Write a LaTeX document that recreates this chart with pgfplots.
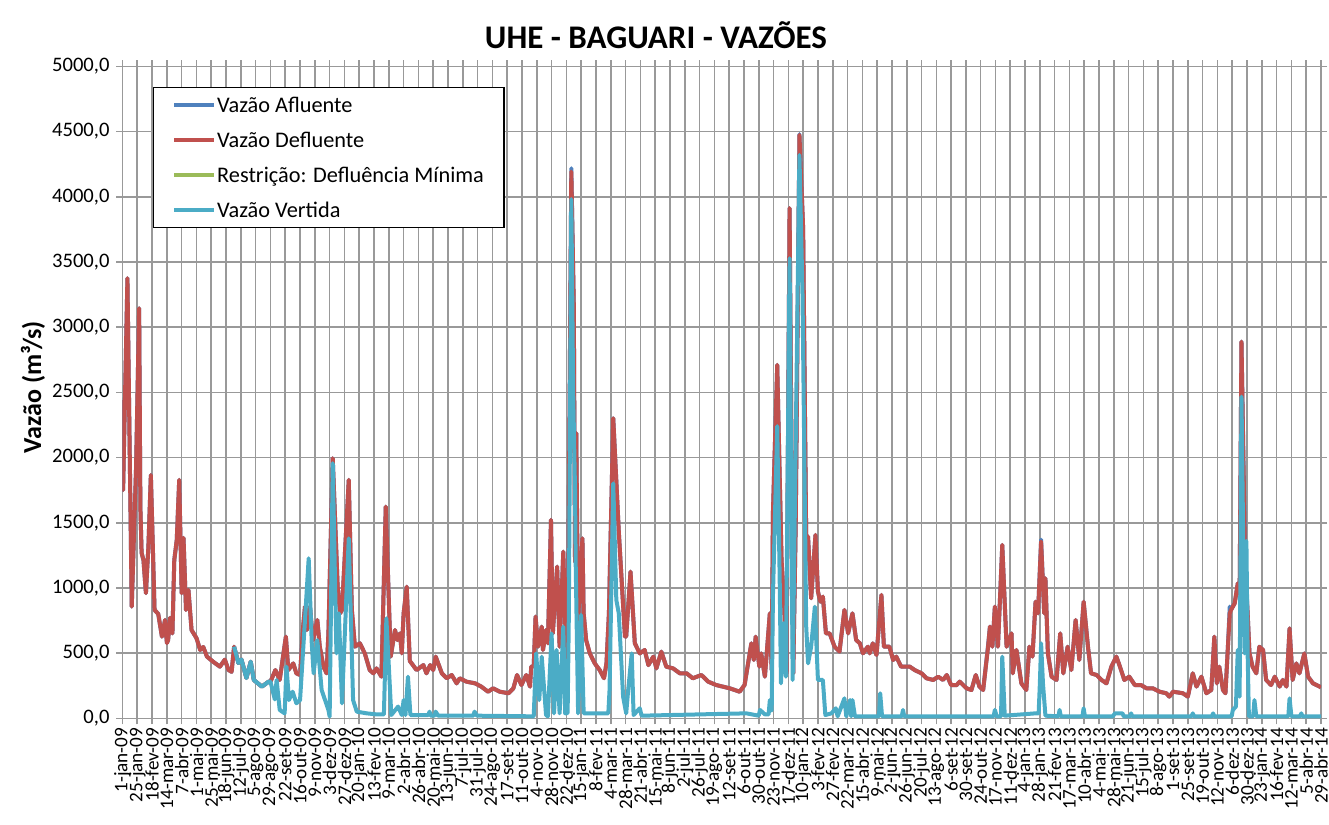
\documentclass[border=0pt]{standalone}
\usepackage{pgfplots}
\pgfplotsset{compat=1.18}
\usepackage{pgfplotstable}
\usepackage{fontspec}
\setmainfont{Carlito}

\definecolor{afl}{HTML}{4F81BD}
\definecolor{defl}{HTML}{C0504D}
\definecolor{restr}{HTML}{9BBB59}
\definecolor{vert}{HTML}{4BACC6}

% day 0 = 1-jan-09
\pgfplotstableread{
d defl afl
0 2440 2440
1 1750 1750
8 3375 3375
15 856 856
22 1920 1920
27 3145 3145
29 1620 1620
31 1268 1268
34 1214 1214
38 960 960
42 1316 1316
46 1866 1866
52 831 831
58 800 800
64 626 626
69 754 754
72 577 577
74 600 600
77 770 770
81 651 651
84 1214 1214
88 1367 1367
92 1828 1828
96 959 959
99 1383 1383
103 831 831
107 984 984
112 677 677
120 615 615
126 524 524
131 547 547
137 473 473
147 434 434
158 396 396
166 450 450
172 370 370
177 357 357
181 549 549
188 424 424
193 450 450
201 309 309
208 434 434
213 294 294
226 243 243
237 281 281
240 281 281
248 370 370
255 294 294
265 626 626
269 370 370
277 421 421
282 345 345
288 332 332
293 703 703
296 856 856
299 677 677
304 856 856
309 600 600
316 754 754
320 549 549
326 396 396
331 345 345
334 651 651
341 1994 1994
349 1009 1009
353 805 805
356 831 831
367 1828 1828
372 831 831
377 549 549
385 575 575
393 498 498
401 370 370
407 345 345
412 383 383
420 319 319
427 1623 1623
435 473 473
442 677 677
446 600 600
450 651 651
453 498 498
456 805 805
461 1009 1009
466 440 440
477 370 370
488 408 408
493 345 345
499 408 408
504 370 370
508 473 473
518 345 345
526 307 307
534 332 332
542 268 268
547 307 307
558 281 281
572 268 268
582 243 243
593 204 204
601 230 230
612 204 204
626 192 192
634 230 230
640 332 332
647 255 255
655 332 332
661 243 243
663 396 396
667 400 400
670 780 780
674 549 549
680 703 703
682 524 524
687 677 677
690 575 575
695 1521 1521
698 651 651
705 1163 1163
709 549 549
715 1278 1278
720 396 396
723 1000 1000
728 4192 4218
732 3170 3170
734 1200 1200
736 2186 2186
739 754 754
746 1380 1380
748 805 805
752 600 600
758 498 498
766 421 421
774 370 370
781 307 307
785 421 421
789 805 805
796 2301 2301
805 1431 1431
815 626 626
817 626 626
824 1124 1124
831 575 575
839 498 498
847 524 524
853 408 408
861 473 473
866 383 383
874 511 511
882 396 396
893 383 383
904 345 345
915 345 345
925 307 307
939 332 332
950 281 281
963 255 255
985 230 230
1001 204 204
1009 255 255
1020 575 575
1024 447 447
1027 626 626
1033 396 396
1036 498 498
1042 319 319
1050 805 805
1053 370 370
1055 1572 1572
1062 2710 2710
1069 1214 1214
1073 900 900
1077 345 345
1082 3912 3912
1088 345 345
1092 1500 1500
1098 4474 4480
1104 3758 3758
1109 1367 1367
1112 1393 1393
1117 920 920
1124 1406 1406
1128 971 971
1132 894 894
1136 933 933
1141 651 651
1147 651 651
1155 549 549
1163 511 511
1171 831 831
1177 651 651
1184 805 805
1190 600 600
1196 575 575
1201 498 498
1209 549 549
1212 498 498
1217 575 575
1223 485 485
1231 946 946
1235 549 549
1244 549 549
1250 447 447
1255 473 473
1263 396 396
1277 396 396
1285 370 370
1296 345 345
1304 307 307
1315 294 294
1323 319 319
1331 294 294
1337 332 332
1344 255 255
1353 255 255
1358 281 281
1369 230 230
1377 217 217
1384 332 332
1390 243 243
1396 217 217
1404 549 560
1407 703 703
1411 549 549
1415 856 856
1420 549 549
1427 1329 1329
1434 549 549
1442 651 651
1444 345 345
1450 524 524
1458 268 268
1466 217 217
1471 549 549
1476 473 473
1481 894 894
1485 805 805
1490 1355 1370
1495 805 805
1497 1074 1074
1501 498 498
1507 319 319
1515 294 294
1521 651 651
1526 345 345
1533 549 549
1539 370 370
1546 754 754
1552 447 447
1559 894 894
1566 549 549
1571 345 345
1580 332 332
1588 294 294
1596 268 268
1604 396 396
1612 473 473
1617 408 408
1625 294 294
1633 319 319
1642 255 255
1652 255 255
1661 230 230
1671 230 230
1682 204 204
1693 192 192
1698 166 166
1704 204 204
1720 192 192
1728 166 166
1736 345 345
1742 243 243
1750 319 319
1758 192 192
1766 217 217
1771 626 626
1775 268 268
1779 396 396
1785 217 217
1789 192 192
1793 549 549
1796 805 856
1798 831 831
1804 882 882
1809 1035 1035
1812 950 950
1815 2889 2889
1821 1150 1214
1825 805 805
1828 498 498
1833 396 396
1839 345 345
1844 549 549
1850 524 524
1855 294 294
1863 255 255
1869 319 319
1877 243 243
1882 294 294
1888 243 243
1893 690 690
1898 294 294
1904 421 421
1909 345 345
1917 498 498
1923 319 319
1931 268 268
1942 243 243
1944 235 235
}\defltable

\pgfplotstableread{
d v
181 549
188 424
193 450
201 309
208 434
213 294
226 243
237 281
240 281
247 145
250 294
255 64
263 38
266 396
270 140
276 204
282 115
288 140
295 677
302 1227
307 575
310 345
316 600
323 217
334 64
336 13
341 1956
347 498
351 805
356 115
367 1380
374 140
380 51
396 38
412 30
424 30
428 767
436 25
447 90
453 25
456 140
459 25
463 319
467 25
496 25
498 51
500 20
506 20
508 51
512 20
569 20
571 51
575 20
667 15
671 498
676 140
680 473
687 25
690 15
696 651
700 38
704 524
709 38
715 703
718 38
722 40
724 800
728 3981
731 2500
734 1751
735 1214
739 38
744 792
748 38
788 38
790 217
796 1802
801 907
805 805
812 166
817 38
820 204
826 498
829 25
839 77
842 20
1012 38
1032 20
1034 64
1042 30
1048 30
1050 140
1053 60
1055 933
1062 2240
1066 1061
1068 268
1072 729
1076 319
1082 3528
1087 294
1098 4320
1103 3250
1109 703
1112 421
1117 549
1123 856
1128 294
1136 294
1140 25
1150 38
1157 77
1160 15
1171 153
1174 15
1180 140
1182 15
1184 140
1188 15
1227 15
1229 192
1232 15
1264 15
1266 64
1268 15
1413 15
1415 64
1418 15
1425 15
1427 473
1431 20
1481 38
1486 38
1488 268
1490 575
1493 268
1497 20
1518 15
1520 64
1522 15
1557 15
1559 77
1561 15
1606 15
1610 38
1622 38
1624 15
1634 15
1636 38
1638 15
1734 15
1736 38
1738 15
1767 15
1769 38
1771 15
1799 15
1801 64
1806 90
1809 524
1812 166
1815 2467
1820 498
1823 1360
1825 498
1827 15
1834 15
1836 140
1839 15
1891 15
1893 153
1896 15
1910 15
1912 38
1914 15
1944 15
}\verttable

\newcommand{\tickfont}{\fontsize{10.3bp}{12bp}\selectfont}

\begin{document}
\begin{tikzpicture}
\begin{axis}[
  scale only axis, width=599.25bp, height=326bp,
  xmin=0, xmax=1944, ymin=0, ymax=5000,
  xtick={0,24,...,1944},
  xticklabels={1-jan-09,25-jan-09,18-fev-09,14-mar-09,7-abr-09,1-mai-09,25-mai-09,18-jun-09,12-jul-09,5-ago-09,29-ago-09,22-set-09,16-out-09,9-nov-09,3-dez-09,27-dez-09,20-jan-10,13-fev-10,9-mar-10,2-abr-10,26-abr-10,20-mai-10,13-jun-10,7-jul-10,31-jul-10,24-ago-10,17-set-10,11-out-10,4-nov-10,28-nov-10,22-dez-10,15-jan-11,8-fev-11,4-mar-11,28-mar-11,21-abr-11,15-mai-11,8-jun-11,2-jul-11,26-jul-11,19-ago-11,12-set-11,6-out-11,30-out-11,23-nov-11,17-dez-11,10-jan-12,3-fev-12,27-fev-12,22-mar-12,15-abr-12,9-mai-12,2-jun-12,26-jun-12,20-jul-12,13-ago-12,6-set-12,30-set-12,24-out-12,17-nov-12,11-dez-12,4-jan-13,28-jan-13,21-fev-13,17-mar-13,10-abr-13,4-mai-13,28-mai-13,21-jun-13,15-jul-13,8-ago-13,1-set-13,25-set-13,19-out-13,12-nov-13,6-dez-13,30-dez-13,23-jan-14,16-fev-14,12-mar-14,5-abr-14,29-abr-14},
  xticklabel style={rotate=90, anchor=east, font=\fontsize{9.6bp}{11bp}\selectfont, inner xsep=1.5bp},
  ytick={0,500,...,5000},
  yticklabel style={font=\tickfont},
  /pgf/number format/.cd, fixed, fixed zerofill, precision=1, use comma, 1000 sep={}, assume math mode=true,
  /pgfplots/.cd,
  grid=major, grid style={gray!80, line width=0.8bp},
  axis line style={gray!80, line width=0.8bp},
  tick style={gray!80, line width=0.8bp},
  tick align=outside, major tick length=3bp,
  legend cell align=left,
  legend image code/.code={\draw[#1, line width=1.8bp] (0bp,0bp) -- (20bp,0bp);},
  legend style={at={(0.02545,0.96825)}, anchor=north west, draw=black, line width=0.6bp,
    font=\fontsize{11.15bp}{13bp}\selectfont, inner xsep=9.5bp, inner ysep=0bp,
    nodes={inner xsep=0.5bp, inner ysep=0bp, text height=12.25bp, text depth=5.25bp}},
  every axis plot/.append style={line width=2bp, line join=round},
]
\addplot[afl] table[x=d, y=afl] {\defltable};
\addlegendentry{Vazão Afluente}
\addplot[defl] table[x=d, y=defl] {\defltable};
\addlegendentry{Vazão Defluente}
\addlegendimage{restr, line width=2bp}
\addlegendentry{Restrição: Defluência Mínima}
\addplot[vert] table[x=d, y=v] {\verttable};
\addlegendentry{Vazão Vertida}
\end{axis}
\node[font=\fontsize{16.5bp}{19bp}\selectfont\bfseries] at (266.75bp,341.65bp) {UHE - BAGUARI - VAZÕES};
\node[rotate=90, font=\fontsize{13bp}{15bp}\selectfont\bfseries] at (-44.75bp,165.65bp) {Vazão (m³/s)};
\pgfresetboundingbox
\path (-61.25bp,-53.35bp) rectangle (603.25bp,359.15bp);
\end{tikzpicture}
\end{document}
